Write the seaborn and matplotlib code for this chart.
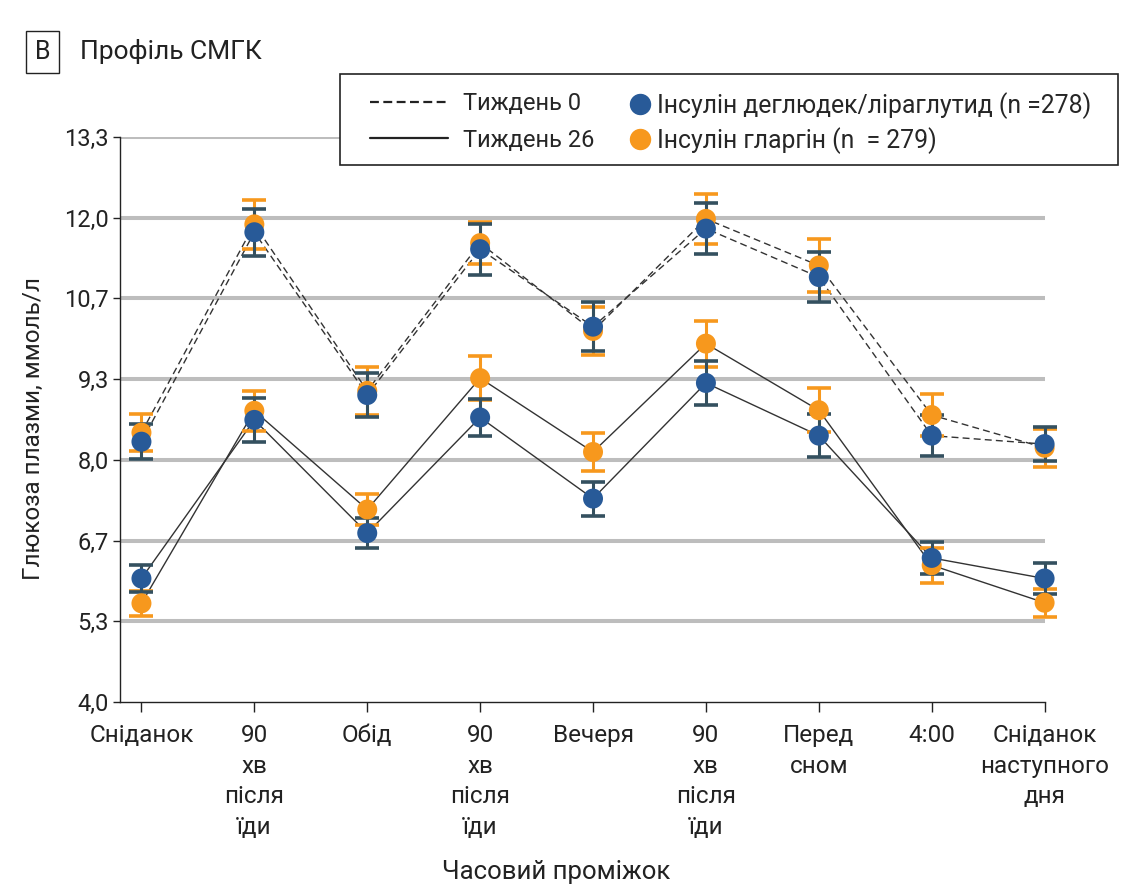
import numpy as np
import pandas as pd
import matplotlib
matplotlib.use("Agg")
import matplotlib.pyplot as plt
import seaborn as sns
from matplotlib.lines import Line2D
from matplotlib.patches import Rectangle

# --- Setup ---
sns.set_style("ticks")
plt.rcParams['font.family'] = ['Roboto', 'DejaVu Sans']

# --- Data ---
time_labels = ["Сніданок", "90\nхв\nпісля\nїди", "Обід", "90\nхв\nпісля\nїди", "Вечеря",
               "90\nхв\nпісля\nїди", "Перед\nсном", "4:00", "Сніданок\nнаступного\nдня"]

# week 0 (dashed)
w0_ideglira = [8.30, 11.76, 9.07, 11.48, 10.20, 11.82, 11.02, 8.40, 8.26]
w0_ideglira_err = [0.29, 0.39, 0.36, 0.42, 0.40, 0.42, 0.42, 0.34, 0.28]
w0_glar = [8.45, 11.89, 9.14, 11.58, 10.13, 11.98, 11.21, 8.74, 8.20]
w0_glar_err = [0.30, 0.40, 0.40, 0.35, 0.40, 0.41, 0.43, 0.35, 0.31]

# week 26 (solid)
w26_ideglira = [6.04, 8.66, 6.79, 8.70, 7.36, 9.27, 8.40, 6.38, 6.04]
w26_ideglira_err = [0.23, 0.36, 0.25, 0.30, 0.28, 0.36, 0.35, 0.26, 0.25]
w26_glar = [5.63, 8.81, 7.18, 9.35, 8.13, 9.92, 8.82, 6.26, 5.64]
w26_glar_err = [0.21, 0.33, 0.26, 0.36, 0.31, 0.38, 0.36, 0.29, 0.23]

yticks = [4.0, 5.333, 6.667, 8.0, 9.333, 10.667, 12.0, 13.333]
ytick_labels = ["4,0", "5,3", "6,7", "8,0", "9,3", "10,7", "12,0", "13,3"]

blue = "#285A98"
blue_err = "#34505F"
orange = "#F7981D"
line_col = "#333333"

pos = np.arange(len(time_labels))

# --- Figure ---
W, H = 1147, 893
fig = plt.figure(figsize=(W / 100, H / 100), dpi=100)
ax = fig.add_axes([120 / W, 1 - 702 / H, 924.6 / W, (702 - 137) / H])

# connecting lines
for vals, ls in [(w0_glar, (0, (5, 3))), (w0_ideglira, (0, (5, 3))),
                 (w26_glar, '-'), (w26_ideglira, '-')]:
    sns.lineplot(x=pos, y=vals, color=line_col, lw=1.0, linestyle=ls,
                 errorbar=None, ax=ax, zorder=2)

# error bars + markers (orange below, blue on top)
for vals, err, c, ec in [(w0_glar, w0_glar_err, orange, orange),
                         (w26_glar, w26_glar_err, orange, orange),
                         (w0_ideglira, w0_ideglira_err, blue, blue_err),
                         (w26_ideglira, w26_ideglira_err, blue, blue_err)]:
    ebar = ax.errorbar(pos, vals, yerr=err, fmt='none', ecolor=ec, elinewidth=2.2,
                       capsize=8.6, capthick=2.6, zorder=3)
    for art in ebar.lines[1] + ebar.lines[2]:
        art.set_clip_on(False)
    sns.scatterplot(x=pos, y=vals, color=c, s=207, edgecolor='none', zorder=4,
                    clip_on=False, ax=ax)

# --- Axes styling ---
ax.set_xlim(-0.19, 8.0)
ax.set_ylim(4.0, 13.333)
ax.set_yticks(yticks)
ax.set_yticklabels(ytick_labels, fontsize=17)
ax.set_xticks(pos)
ax.set_xticklabels(time_labels, fontsize=17.5, linespacing=1.42, va='top')
ax.yaxis.grid(True, color='#BDBDBD', lw=2.9)
ax.get_ygridlines()[0].set_visible(False)
ax.set_axisbelow(True)
for s in ['top', 'right']:
    ax.spines[s].set_visible(False)
for s in ['left', 'bottom']:
    ax.spines[s].set_color('#222222')
    ax.spines[s].set_linewidth(1.0)
ax.tick_params(axis='y', length=5, width=1, color='#222222', pad=3, labelcolor='#222222')
ax.tick_params(axis='x', length=7, width=1, color='#222222', pad=9, labelcolor='#222222')
ax.set_xlabel("")
ax.set_ylabel("")

fig.text(33 / W, 1 - 429 / H, "Глюкоза плазми, ммоль/л", rotation=90,
         ha='center', va='center', fontsize=17.5, color='#222222')
fig.text(556 / W, 1 - 872 / H, "Часовий проміжок", ha='center', va='center',
         fontsize=18.5, color='#222222')

# --- Title ---
fig.text(43 / W, 1 - 52 / H, "В", ha='center', va='center', fontsize=18, color='#222222',
         bbox=dict(boxstyle='square,pad=0.35', fc='none', ec='#222222', lw=1))
fig.text(80 / W, 1 - 52 / H, "Профіль СМГК", ha='left', va='center', fontsize=19,
         color='#222222')

# --- Legend ---
fig.add_artist(Rectangle((340 / W, 1 - 165 / H), (1118 - 340) / W, (165 - 74) / H,
                         transform=fig.transFigure, fc='white', ec='#222222', lw=1.2,
                         zorder=3))
line_handles = [Line2D([], [], color='#222222', lw=1.6, linestyle=(0, (4, 2))),
                Line2D([], [], color='#222222', lw=1.6)]
fig.legend(handles=line_handles, labels=["Тиждень 0", "Тиждень 26"], loc='upper left',
           bbox_to_anchor=(370 / W, 1 - 92 / H), frameon=False, fontsize=17,
           handlelength=3.3, handletextpad=0.64, labelspacing=0.58, borderpad=0,
           borderaxespad=0)
mark_handles = [Line2D([], [], marker='o', ls='none', color=blue, markersize=14.4),
                Line2D([], [], marker='o', ls='none', color=orange, markersize=14.4)]
fig.legend(handles=mark_handles,
           labels=["Інсулін деглюдек/ліраглутид (n =278)", "Інсулін гларгін (n  = 279)"],
           loc='upper left', bbox_to_anchor=(629 / W, 1 - 92 / H), frameon=False,
           fontsize=17.8, handlelength=0.85, handletextpad=0.3, labelspacing=0.32,
           borderpad=0, borderaxespad=0)

fig.savefig("out.png", dpi=100)
